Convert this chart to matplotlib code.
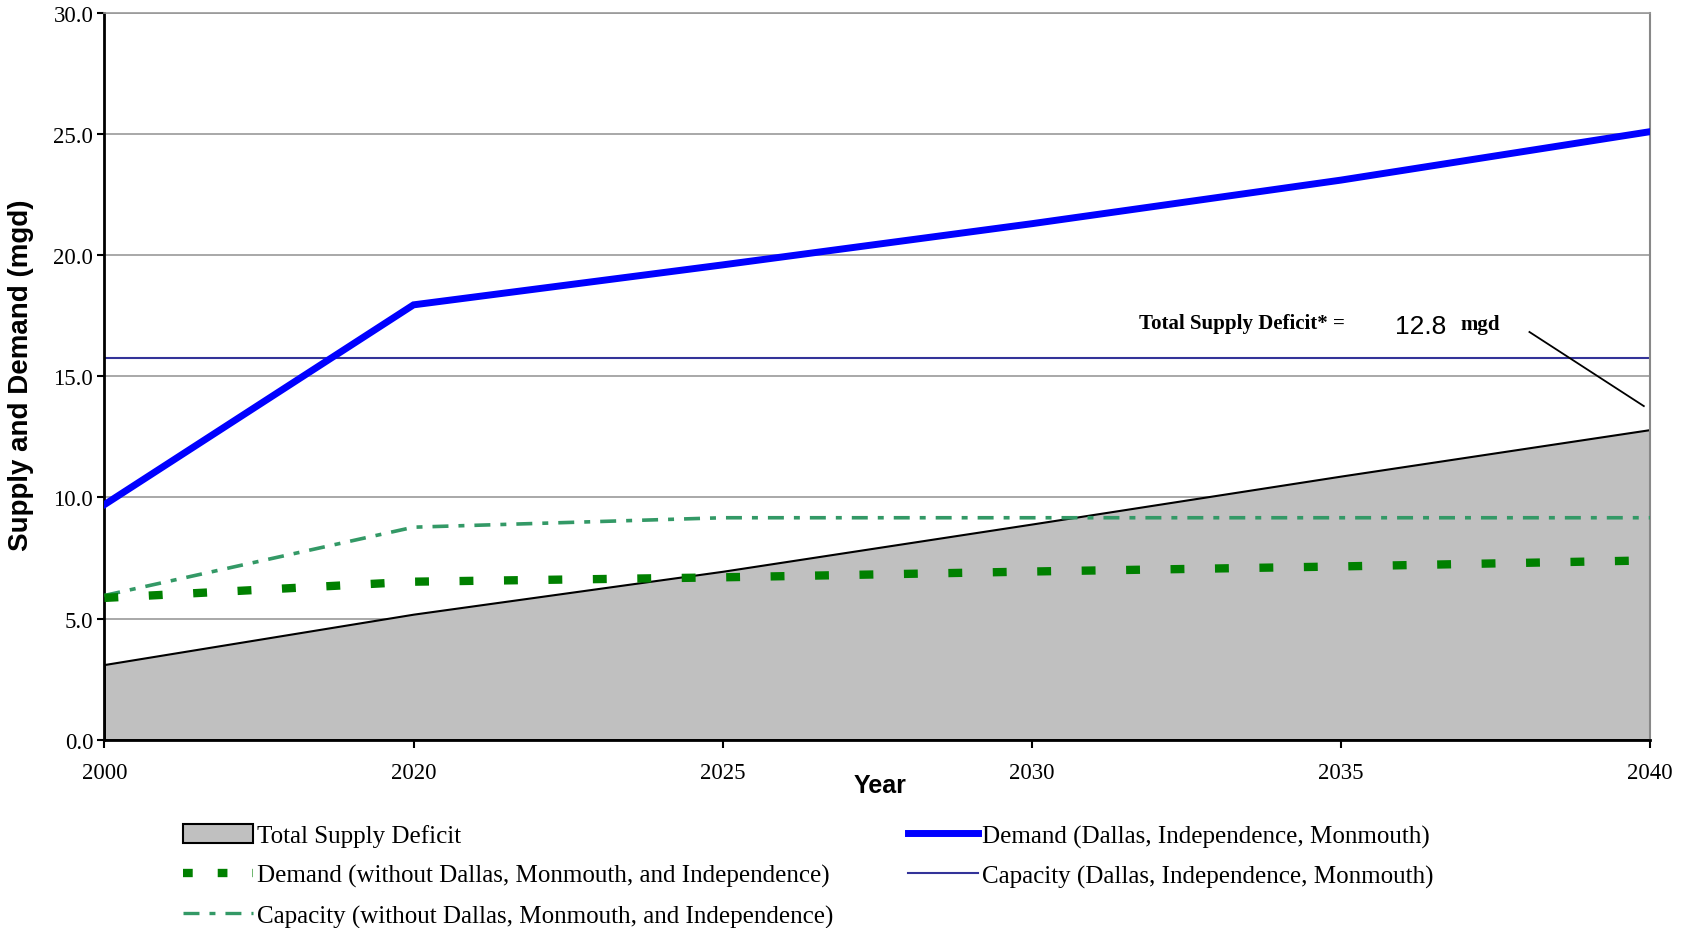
import numpy as np
import matplotlib
matplotlib.use("Agg")
import matplotlib.pyplot as plt
import matplotlib.patches as mpatches
from matplotlib.lines import Line2D

plt.rcParams['lines.scale_dashes'] = False

# ============================================
# data (mgd)
# ============================================
years = ["2000", "2020", "2025", "2030", "2035", "2040"]
total_deficit = [3.1, 5.18, 6.95, 8.9, 10.88, 12.8]
demand_all = [9.7, 17.95, 19.6, 21.3, 23.1, 25.1]
demand_without = [5.85, 6.52, 6.7, 6.94, 7.15, 7.4]
capacity_all = [15.76, 15.76, 15.76, 15.76, 15.76, 15.76]
capacity_without = [5.95, 8.77, 9.16, 9.16, 9.16, 9.16]

x = np.arange(len(years))

SERIF = "Liberation Serif"
SANS = "Liberation Sans"

fig = plt.figure(figsize=(16.88, 9.29), dpi=100)
ax = fig.add_axes([104.4 / 1688, 1 - 740.6 / 929, (1650 - 104.4) / 1688, (740.6 - 14) / 929])

# grid
for v in np.arange(5, 31, 5):
    ax.axhline(v, color="#999999", lw=1.2, zorder=0)

# deficit area
ax.fill_between(x, 0, total_deficit, facecolor="#C0C0C0", edgecolor="black", lw=1.5, zorder=1)

ax.plot(x, capacity_all, color="#333399", lw=1.5, zorder=2)
ax.plot(x, capacity_without, color="#339966", lw=2.6,
        linestyle=(0, (11.5, 7.2, 4.3, 7.2)), zorder=3)
ax.plot(x, demand_without, color="#008000", lw=6,
        linestyle=(0, (10, 22)), solid_capstyle="butt", dash_capstyle="butt", zorder=4)
ax.plot(x, demand_all, color="#0000FF", lw=5, solid_joinstyle="miter", zorder=5)

ax.set_xlim(0, len(years) - 1)
ax.set_ylim(0, 30)
ax.set_xticks(x)
ax.set_xticklabels(years)
ax.set_yticks(np.arange(0, 31, 5))
ax.set_yticklabels([f"{v:.1f}" for v in np.arange(0, 31, 5)])
for lab in ax.get_xticklabels() + ax.get_yticklabels():
    lab.set_fontfamily(SERIF)
    lab.set_fontsize(16.5)
ax.tick_params(axis="x", direction="out", length=6, width=1.5, pad=10)
ax.tick_params(axis="y", direction="out", length=5, width=1.5, pad=3)

for side in ["left", "bottom"]:
    ax.spines[side].set_linewidth(2)
    ax.spines[side].set_color("black")
ax.spines["right"].set_color("#888888")
ax.spines["right"].set_linewidth(1.5)
ax.spines["top"].set_color("#999999")
ax.spines["top"].set_linewidth(1.2)

# axis titles
fig.text(880 / 1688, 1 - 786 / 929, "Year", family=SANS, weight="bold", fontsize=18,
         ha="center", va="center")
fig.text(21.5 / 1688, 1 - 375 / 929, "Supply and Demand (mgd)", family=SANS, weight="bold",
         fontsize=20, rotation=90, ha="center", va="center")

# deficit callout
ax.text(3.347, 17.2, "Total Supply Deficit* =", family=SERIF, weight="bold", fontsize=15,
        ha="left", va="center")
ax.text(4.175, 17.07, f"{total_deficit[-1]:.1f}", family=SANS, fontsize=19,
        ha="left", va="center")
ax.text(4.386, 17.15, "mgd", family=SERIF, weight="bold", fontsize=15,
        ha="left", va="center")
ax.plot([4.61, 4.98], [16.83, 13.77], color="black", lw=1.3, zorder=6, clip_on=False)

# legend
handles = [
    mpatches.Patch(facecolor="#C0C0C0", edgecolor="black", lw=1.5),
    Line2D([], [], color="#008000", lw=6, linestyle=(0, (7, 18))),
    Line2D([], [], color="#339966", lw=2.4, linestyle=(0, (11.5, 7.2, 4.3, 7.2))),
    Line2D([], [], color="#0000FF", lw=5),
    Line2D([], [], color="#333399", lw=1.5),
]
labels = [
    "Total Supply Deficit",
    "Demand (without Dallas, Monmouth, and Independence)",
    "Capacity (without Dallas, Monmouth, and Independence)",
    "Demand (Dallas, Independence, Monmouth)",
    "Capacity (Dallas, Independence, Monmouth)",
]
leg = fig.legend(handles, labels, ncol=2, loc="upper left",
                 bbox_to_anchor=(183 / 1688, 1 - 825 / 929), frameon=False,
                 prop={"family": SERIF, "size": 18}, handlelength=2.8, handleheight=0.8,
                 handletextpad=0.15, labelspacing=0.66, columnspacing=3.0,
                 borderaxespad=0, borderpad=0)

fig.savefig("out.png", dpi=100)
